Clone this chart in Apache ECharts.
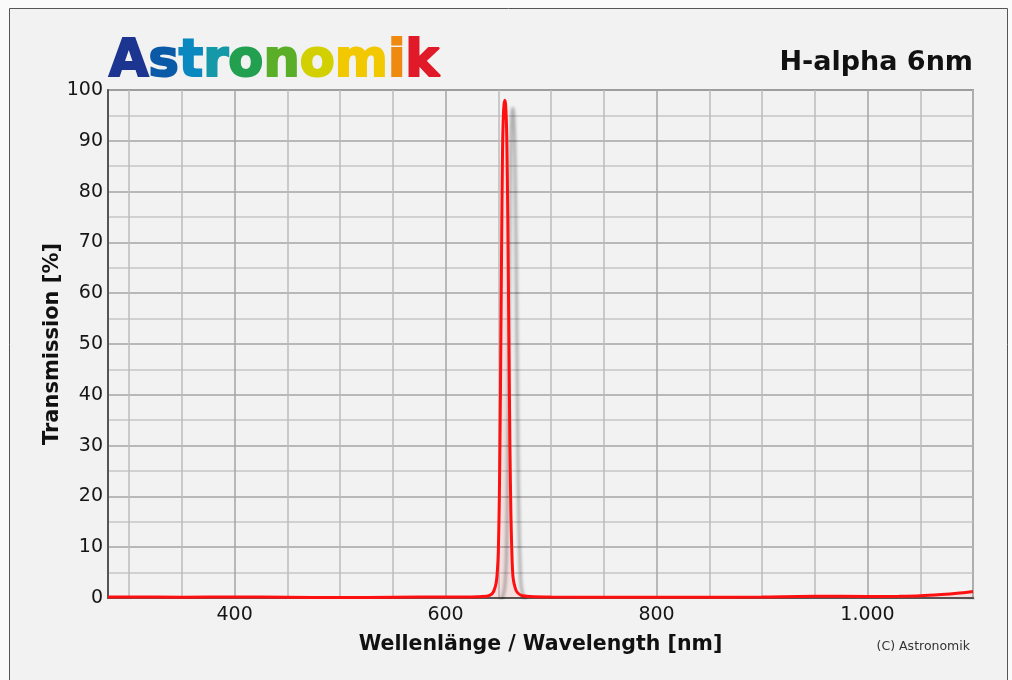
<!DOCTYPE html>
<html>
<head>
<meta charset="utf-8">
<title>Astronomik H-alpha 6nm</title>
<script src="https://cdn.jsdelivr.net/npm/echarts@6/dist/echarts.min.js"></script>
<style>
    html, body { margin: 0; padding: 0; background: #fafafa; }
    #main { width: 1012px; height: 680px; }
</style>
</head>
<body>
<div id="main"></div>
<script>
var wavelengths = [280, 300, 350, 400, 450, 500, 550, 600, 620, 630, 640, 644, 646, 648, 649,
    650, 651, 652, 653, 654, 655, 656, 657, 658, 659, 660, 661, 662, 663, 664, 666, 668, 672,
    680, 700, 750, 800, 850, 900, 950, 1000, 1030, 1050, 1070, 1085, 1100];
var transmission = [0.2, 0.2, 0.15, 0.2, 0.15, 0.1, 0.15, 0.2, 0.2, 0.25, 0.4, 0.8, 1.5, 3, 5,
    9, 20, 40, 66, 88, 96, 98, 97, 91, 75, 52, 30, 16, 8, 4, 2, 1.1, 0.5,
    0.3, 0.2, 0.15, 0.15, 0.15, 0.2, 0.35, 0.3, 0.35, 0.45, 0.7, 0.95, 1.3];
var xLabelValues = [400, 600, 800, 1000];
var xLabelTexts = ['400', '600', '800', '1.000'];
var yLabelValues = [0, 10, 20, 30, 40, 50, 60, 70, 80, 90, 100];

// Logo: Buchstaben im Regenbogenverlauf
var logoLetters = ['A', 's', 't', 'r', 'o', 'n', 'o', 'm', 'i', 'k'];
var logoColors = ['#1c3590', '#0a5aa8', '#0a88c0', '#1598a8', '#22a050', '#5aae28',
    '#d2d000', '#f2c800', '#ee8a10', '#e01a28'];

var seriesData = [];
for (var i = 0; i < wavelengths.length; i++) {
    seriesData.push([wavelengths[i], transmission[i]]);
}

// Gitterlinien: alle 50 nm hell, alle 200 nm etwas dunkler (Ticks alle 10 nm ab 280)
var xGridColors = [];
for (var v = 280; v < 480; v += 10) {
    if (v % 200 === 0) {
        xGridColors.push('#a4a4a4');
    } else if (v % 50 === 0) {
        xGridColors.push('#bbbbbb');
    } else {
        xGridColors.push('rgba(0,0,0,0)');
    }
}

var FONT = '"DejaVu Sans", Verdana, sans-serif';
var LOGO_FONT = 'bold 51px "DejaVu Sans", sans-serif';

var logoText = '';
var logoRich = {};
for (var k = 0; k < logoLetters.length; k++) {
    logoText += '{c' + k + '|' + logoLetters[k] + '}';
    logoRich['c' + k] = {
        font: LOGO_FONT,
        fill: logoColors[k],
        stroke: logoColors[k],
        lineWidth: 2
    };
}

var myChart = echarts.init(document.getElementById('main'));
var option = {
    backgroundColor: '#fafafa',
    animation: false,
    grid: {
        left: 108,
        right: 39,
        top: 90,
        bottom: 82,
        show: true,
        backgroundColor: '#f2f2f2',
        borderColor: '#666',
        borderWidth: 1.5
    },
    xAxis: {
        type: 'value',
        min: 280,
        max: 1100,
        interval: 10,
        name: 'Wellenlänge / Wavelength [nm]',
        nameLocation: 'middle',
        nameGap: 36,
        nameMoveOverlap: false,
        nameTextStyle: {fontFamily: FONT, fontWeight: 'bold', fontSize: 20.5, color: '#111'},
        axisLine: {show: true, lineStyle: {color: '#555', width: 2}},
        axisTick: {show: false},
        axisLabel: {
            fontFamily: FONT,
            fontSize: 19,
            color: '#151515',
            margin: 8,
            showMinLabel: false,
            showMaxLabel: false,
            formatter: function (val) {
                var idx = xLabelValues.indexOf(Math.round(val));
                return idx >= 0 ? xLabelTexts[idx] : '';
            }
        },
        splitLine: {show: true, lineStyle: {color: xGridColors, width: 1.5}}
    },
    yAxis: {
        type: 'value',
        min: 0,
        max: 100,
        interval: 5,
        name: 'Transmission [%]',
        nameLocation: 'middle',
        nameGap: 45,
        nameMoveOverlap: false,
        nameTextStyle: {fontFamily: FONT, fontWeight: 'bold', fontSize: 21, color: '#111'},
        axisLine: {show: true, lineStyle: {color: '#555', width: 2}},
        axisTick: {show: false},
        axisLabel: {
            fontFamily: FONT,
            fontSize: 19,
            color: '#151515',
            margin: 5,
            formatter: function (val) {
                return yLabelValues.indexOf(Math.round(val)) >= 0 ? String(val) : '';
            }
        },
        splitLine: {show: true, lineStyle: {color: ['#a4a4a4', '#c6c6c6'], width: 1.5}}
    },
    series: [{
        type: 'line',
        data: seriesData,
        smooth: 0.25,
        showSymbol: false,
        lineStyle: {
            color: '#ff1010',
            width: 3,
            shadowColor: 'rgba(0,0,0,0.28)',
            shadowBlur: 3,
            shadowOffsetX: 8,
            shadowOffsetY: 8
        },
        areaStyle: {color: 'rgba(255,0,0,0.1)'}
    }],
    graphic: [
        {
            type: 'rect',
            shape: {x: 9.5, y: 8.5, width: 998, height: 700},
            style: {fill: '#f2f2f2', stroke: '#555', lineWidth: 1},
            z: -10
        },
        {
            type: 'text',
            left: 108,
            top: 36,
            style: {
                text: logoText,
                rich: logoRich
            }
        },
        {
            type: 'text',
            right: 39,
            top: 49,
            style: {
                text: 'H-alpha 6nm',
                font: 'bold 27px ' + FONT,
                fill: '#111'
            }
        },
        {
            type: 'text',
            right: 42,
            top: 640,
            style: {
                text: '(C) Astronomik',
                font: '12.5px ' + FONT,
                fill: '#333'
            }
        }
    ]
};
myChart.setOption(option);
</script>
</body>
</html>
